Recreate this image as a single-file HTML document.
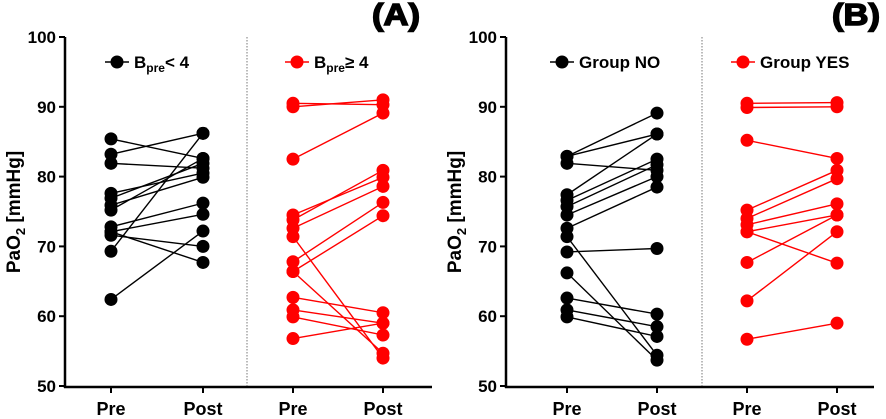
<!DOCTYPE html>
<html><head><meta charset="utf-8"><style>
body{margin:0;background:#fff}
svg{display:block;font-family:"Liberation Sans",sans-serif;font-weight:bold}
</style></head><body>
<svg id="c" width="886" height="419"></svg>
<script>
const ticks=[50,60,70,80,90,100];
const xLabels=["Pre","Post","Pre","Post"];
const aBlackPre=[85.4,83.2,81.9,77.6,76.9,75.9,75.2,72.8,72.1,71.6,69.3,62.4];
const aBlackPost=[82.6,86.2,81.2,80.5,81.9,79.9,82.6,76.2,74.6,70.0,86.2,72.2];
const aBlackPre2=[72.1];
const aBlackPost2=[67.7];
const aRedPre=[90.5,90.0,82.5,74.5,73.8,72.6,71.4,67.8,66.4,66.4,62.7,60.9,59.9,56.8];
const aRedPost=[90.3,91.0,89.1,79.9,80.9,78.6,54.0,76.3,74.4,54.7,60.5,59.0,57.3,59.0];
const bBlackPre=[82.9,82.9,81.9,77.4,76.6,75.7,74.5,72.6,71.4,69.2,66.2,62.6,60.9,59.9];
const bBlackPost=[89.1,86.1,80.9,86.1,82.5,81.7,80.0,78.5,54.4,69.7,53.7,60.3,58.5,57.1];
const bRedPre=[90.5,89.9,85.2,75.2,74.0,73.1,72.1,72.1,67.7,62.2,56.7];
const bRedPost=[90.6,90.0,82.6,80.9,79.7,76.1,74.5,67.6,74.5,72.1,59.0];
const NS="http://www.w3.org/2000/svg";
const svg=document.getElementById('c');
function yS(v){return 386-(v-50)*6.98;}
function el(t,a,txt){const e=document.createElementNS(NS,t);for(const k in a)e.setAttribute(k,a[k]);if(txt!==undefined)e.textContent=txt;svg.appendChild(e);return e;}
function series(x1,x2,pre,post,col,name){
  for(let i=0;i<pre.length;i++){
    const l=el('line',{x1:x1,y1:yS(pre[i]),x2:x2,y2:yS(post[i]),stroke:col,'stroke-width':1.4});
    
    
  }
  for(let i=0;i<pre.length;i++){
    const a=el('circle',{cx:x1,cy:yS(pre[i]),r:6.5,fill:col});
    
    
    const b=el('circle',{cx:x2,cy:yS(post[i]),r:6.5,fill:col});
    
    
  }
}
function panel(ax,xs,div,right,title,titleX,leg){
  const yl=el('line',{x1:ax,y1:yS(100),x2:ax,y2:388,stroke:'#000','stroke-width':2.5});
  
  
  const xl=el('line',{x1:ax-1,y1:387,x2:right,y2:387,stroke:'#000','stroke-width':2.5});
  
  
  ticks.forEach(t=>{
    const tk=el('line',{x1:ax-6,y1:yS(t),x2:ax,y2:yS(t),stroke:'#000','stroke-width':2});
    
    
    const tl=el('text',{x:ax-9,y:yS(t)+6,'text-anchor':'end','font-size':17},t);
    
    
  });
  xs.forEach((x,i)=>{
    const tk=el('line',{x1:x,y1:387,x2:x,y2:393,stroke:'#000','stroke-width':2});
    
    
    const tl=el('text',{x:x,y:415,'text-anchor':'middle','font-size':18},xLabels[i]);
    
    
  });
  const d=el('line',{x1:div,y1:37,x2:div,y2:386,stroke:'#777','stroke-width':1,'stroke-dasharray':'1.5,1.5'});
  
  
  const yt=el('text',{x:0,y:0,'text-anchor':'middle','font-size':19,transform:`translate(${ax-45},212) rotate(-90)`});
  yt.innerHTML='PaO<tspan font-size="13" dy="5">2</tspan><tspan dy="-5"> [mmHg]</tspan>';
  
  
  const tt=el('text',{x:titleX-48,y:25,'font-size':31,textLength:48,lengthAdjust:'spacingAndGlyphs',stroke:'#000','stroke-width':1.5},title);
  
  
  leg.forEach(g=>{
    const ll=el('line',{x1:g.x-12,y1:62,x2:g.x+12,y2:62,stroke:g.c,'stroke-width':1.5});
    
    
    const lc=el('circle',{cx:g.x,cy:62,r:6.5,fill:g.c});
    
    
    const lt=el('text',{x:g.x+17,y:68,'font-size':17});
    lt.innerHTML=g.t;
    
    
  });
}
panel(65,[111,203,293,383],247,432,'(A)',420,[
 {x:117,c:'#000',t:'B<tspan font-size="12" dy="4">pre</tspan><tspan dy="-4">&lt; 4</tspan>'},
 {x:297,c:'#f00',t:'B<tspan font-size="12" dy="4">pre</tspan><tspan dy="-4">≥ 4</tspan>'}]);
panel(506,[567,657,747,837],702,874,'(B)',880,[
 {x:562,c:'#000',t:'Group NO'},
 {x:743,c:'#f00',t:'Group YES'}]);
series(111,203,aBlackPre,aBlackPost,'#000','a-bpre-lt4');
series(111,203,aBlackPre2,aBlackPost2,'#000','a-bpre-lt4');
series(293,383,aRedPre,aRedPost,'#f00','a-bpre-ge4');
series(567,657,bBlackPre,bBlackPost,'#000','b-group-no');
series(747,837,bRedPre,bRedPost,'#f00','b-group-yes');
</script>
</body></html>
